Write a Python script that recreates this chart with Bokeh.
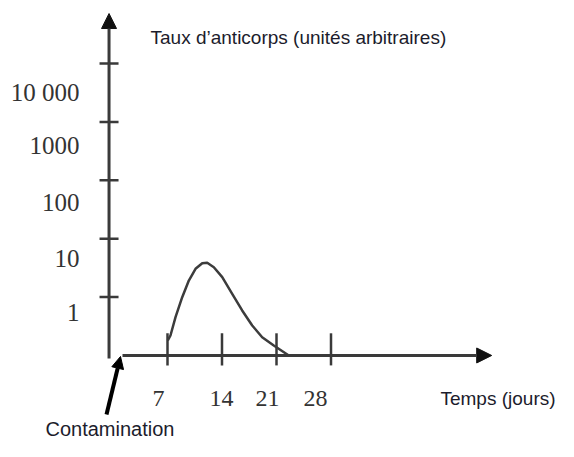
from bokeh.plotting import figure
from bokeh.models import Range1d, Arrow, NormalHead
from bokeh.core.properties import value
from bokeh.embed import file_html
from bokeh.resources import INLINE

# ---- data ----
x_tick_days = [7, 14, 21, 28]
x_tick_labels = ["7", "14", "21", "28"]
x_label_days = [5.85, 13.95, 19.85, 26.0]

y_tick_levels = [1, 2, 3, 4, 5]
y_tick_labels = ["1", "10", "100", "1000", "10 000"]
y_label_levels = [0.736, 1.661, 2.620, 3.596, 4.503]

curve_days = [7.04, 7.38, 8.03, 8.89, 9.74, 10.60, 11.46, 12.10, 12.95,
              14.03, 15.31, 16.59, 17.88, 19.16, 20.65, 22.58]
curve_levels = [0.257, 0.342, 0.656, 0.998, 1.284, 1.484, 1.580, 1.587, 1.512,
                1.341, 1.056, 0.771, 0.514, 0.313, 0.171, 0.0]

title_text = "Taux d\u2019anticorps (unités arbitraires)"
xlabel_text = "Temps (jours)"
event_text = "Contamination"

# ---- figure ----
p = figure(width=558, height=441, output_backend="svg", toolbar_location=None,
           min_border=0, x_range=Range1d(-14.45, 57.22), y_range=Range1d(-1.473, 6.079))
p.axis.visible = False
p.grid.visible = False
p.outline_line_color = None
p.background_fill_color = "white"
p.border_fill_color = "white"

axis_col = "#3a3a3a"
head_col = "#111111"

# y axis with arrow
p.add_layout(Arrow(x_start=-0.51, y_start=-0.05, x_end=-0.51, y_end=5.856,
                   line_color=axis_col, line_width=3,
                   end=NormalHead(size=15, fill_color=head_col, line_color=head_col)))
# x axis with arrow
p.add_layout(Arrow(x_start=1.22, y_start=0, x_end=48.64, y_end=0,
                   line_color=axis_col, line_width=3,
                   end=NormalHead(size=15, fill_color=head_col, line_color=head_col)))

# y ticks
p.scatter([-0.51] * len(y_tick_levels), y_tick_levels, marker="dash", size=19,
          line_color=axis_col, line_width=2.5)
# x ticks
p.segment(x0=x_tick_days, y0=[-0.17] * 4, x1=x_tick_days, y1=[0.38] * 4,
          line_color=axis_col, line_width=2.5)

# curve
p.line(curve_days, curve_levels, line_color="#3c3c3c", line_width=2.5)

# contamination arrow
p.add_layout(Arrow(x_start=-0.835, y_start=-1.01, x_end=0.963, y_end=-0.017,
                   line_color="black", line_width=4,
                   end=NormalHead(size=12, fill_color="black", line_color="black")))

# tick labels
p.text([-4.3] * 5, y_label_levels, text=y_tick_labels, text_align="right",
       text_baseline="middle", text_font=value("Liberation Serif"),
       text_font_size="25px", text_color="#333333")
p.text(x_label_days, [-0.736] * 4, text=x_tick_labels, text_align="center",
       text_baseline="middle", text_font=value("Liberation Serif"),
       text_font_size="24px", text_color="#333333")

# titles
txt_col = "#1c1c2c"
p.text([4.82], [5.445], text=[title_text], text_align="left",
       text_baseline="alphabetic", text_font=value("Liberation Sans"),
       text_font_size="19px", text_color=txt_col)
p.text([42.06], [-0.736], text=[xlabel_text], text_align="left",
       text_baseline="middle", text_font=value("Liberation Sans"),
       text_font_size="19px", text_color=txt_col)
p.text([-8.67], [-1.44], text=[event_text], text_align="left",
       text_baseline="bottom", text_font=value("Liberation Sans"),
       text_font_size="20px", text_color=txt_col)

open("out.html", "w").write(file_html(p, INLINE))
